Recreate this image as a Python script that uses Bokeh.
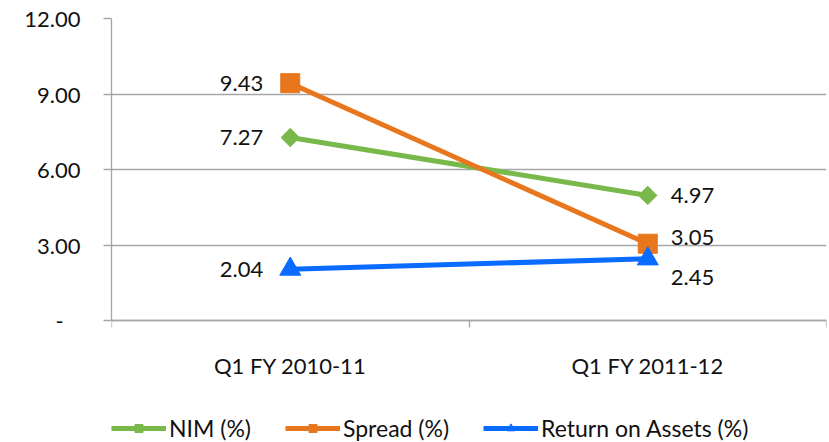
from bokeh.plotting import figure
from bokeh.models import Range1d, FixedTicker, Legend, LegendItem, ColumnDataSource
from bokeh.embed import file_html
from bokeh.resources import INLINE
from bokeh.core.properties import value
import math

categories = ["Q1 FY 2010-11", "Q1 FY 2011-12"]
nim = [7.27, 4.97]
spread = [9.43, 3.05]
roa = [2.04, 2.45]
y_ticks = [0, 3, 6, 9, 12]

FONT = "Lato"
FS = "22px"
GREEN = "#79B84B"
ORANGE = "#E8761C"
BLUE = "#0A6BFF"
GRID = "#A6A6A6"
TXT = "#111111"

# layout: value area 302px tall, extra 122px below zero for axis labels + legend
PLOT_PX = 302
BELOW_PX = 122
y_max = max(y_ticks)
y_min = -y_max * BELOW_PX / PLOT_PX

xs = [i + 0.5 for i in range(len(categories))]

p = figure(frame_width=715, frame_height=PLOT_PX + BELOW_PX, output_backend="svg",
           toolbar_location=None,
           x_range=Range1d(0, len(categories)), y_range=Range1d(y_min, y_max),
           min_border_left=111, min_border_right=3, min_border_top=18,
           min_border_bottom=0)
p.outline_line_color = None
p.background_fill_color = "white"
p.border_fill_color = "white"

# y axis
p.yaxis.ticker = FixedTicker(ticks=y_ticks)
p.yaxis.bounds = (0, y_max)
p.yaxis.major_label_overrides = {t: ("-\u00a0\u00a0\u00a0" if t == 0 else f"{t:.2f}") for t in y_ticks}
p.yaxis.major_label_text_font = FONT
p.yaxis.major_label_text_font_size = FS
p.yaxis.major_label_text_color = TXT
p.yaxis.major_tick_out = 8
p.yaxis.major_tick_in = 0
p.yaxis.minor_tick_line_color = None
p.yaxis.major_tick_line_color = GRID
p.yaxis.major_tick_line_width = 1.3
p.yaxis.axis_line_color = GRID
p.yaxis.axis_line_width = 1.3
p.yaxis.major_label_standoff = 23

# x axis, pinned at y = 0
p.xaxis.fixed_location = 0
p.xaxis.ticker = FixedTicker(ticks=xs, minor_ticks=list(range(len(categories) + 1)))
p.xaxis.major_label_overrides = {x: c for x, c in zip(xs, categories)}
p.xaxis.major_label_text_font = FONT
p.xaxis.major_label_text_font_size = FS
p.xaxis.major_label_text_color = TXT
p.xaxis.major_tick_out = 0
p.xaxis.major_tick_in = 0
p.xaxis.major_tick_line_color = None
p.xaxis.minor_tick_out = 7
p.xaxis.minor_tick_in = 0
p.xaxis.minor_tick_line_color = GRID
p.xaxis.minor_tick_line_width = 1.3
p.xaxis.axis_line_color = GRID
p.xaxis.axis_line_width = 1.3
p.xaxis.major_label_standoff = 24

p.xgrid.grid_line_color = None
p.ygrid.ticker = FixedTicker(ticks=y_ticks)
p.ygrid.grid_line_color = GRID
p.ygrid.grid_line_width = 1.3

series = [
    ("NIM (%)", nim, GREEN, "square", 13, math.pi / 4),
    ("Spread (%)", spread, ORANGE, "square", 19, 0),
    ("Return on Assets (%)", roa, BLUE, "triangle", 21, 0),
]

items = []
for name, vals, color, marker, size, ang in series:
    src = ColumnDataSource(dict(x=xs, y=vals))
    ln = p.line("x", "y", source=src, line_color=color, line_width=5)
    mk = p.scatter("x", "y", source=src, marker=marker, size=size, angle=ang,
                   fill_color=color, line_color=color)
    items.append(LegendItem(label=name, renderers=[ln, mk]))

# data labels
right_yoff = {"NIM (%)": 0, "Spread (%)": -6, "Return on Assets (%)": 19}
for name, vals, color, marker, size, ang in series:
    p.text(x=[xs[0]], y=[vals[0]], text=[f"{vals[0]:.2f}"], x_offset=-27, y_offset=0,
           text_align="right", text_baseline="middle", text_font=value(FONT),
           text_font_size=FS, text_color=TXT)
    p.text(x=[xs[1]], y=[vals[1]], text=[f"{vals[1]:.2f}"], x_offset=23, y_offset=right_yoff[name],
           text_align="left", text_baseline="middle", text_font=value(FONT),
           text_font_size=FS, text_color=TXT)

legend = Legend(items=items, orientation="horizontal", location=(0, 0),
                label_text_font=FONT, label_text_font_size="23px", label_text_color=TXT,
                glyph_width=55, glyph_height=20, label_standoff=3, spacing=34,
                border_line_color=None, background_fill_alpha=0, padding=0, margin=0)
p.add_layout(legend, "center")

open("out.html", "w").write(file_html(p, INLINE))
